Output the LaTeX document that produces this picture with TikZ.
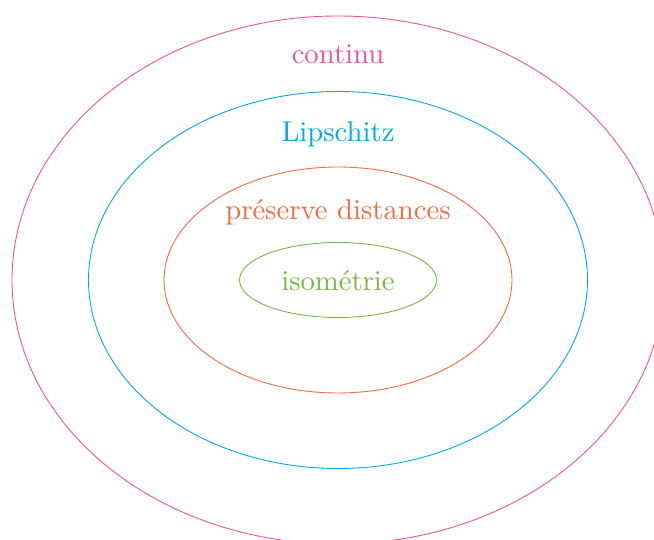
\documentclass[tikz,border=0pt]{standalone}
\definecolor{cpink}{RGB}{238,82,157}
\definecolor{ccyan}{RGB}{0,170,232}
\definecolor{corange}{RGB}{242,107,64}
\definecolor{cgreen}{RGB}{116,184,67}
\begin{document}
\begin{tikzpicture}[x=1pt,y=1pt,
  lbl/.style={inner sep=0pt,font=\fontsize{10}{12}\selectfont,scale=2.87,transform shape}]
\useasboundingbox (0,0) rectangle (654,540);
\clip (0,0) rectangle (654,540);
\coordinate (c) at (338,260);
\draw[cpink,line width=0.9pt] (c) ellipse [x radius=326, y radius=264];
\draw[ccyan,line width=0.9pt] (c) ellipse [x radius=249.5, y radius=188.5];
\draw[corange,line width=0.9pt] (c) ellipse [x radius=174, y radius=113];
\draw[cgreen,line width=0.9pt] (c) ellipse [x radius=98.5, y radius=37.5];
\node[lbl,text=cpink] (t1) at (338,486) {continu};
\node[lbl,text=ccyan] (t2) at (338,406) {Lipschitz};
\node[lbl,text=corange] (t3) at (338,328) {préserve distances};
\node[lbl,text=cgreen] (t4) at (338,259) {isométrie};
\end{tikzpicture}
\end{document}
